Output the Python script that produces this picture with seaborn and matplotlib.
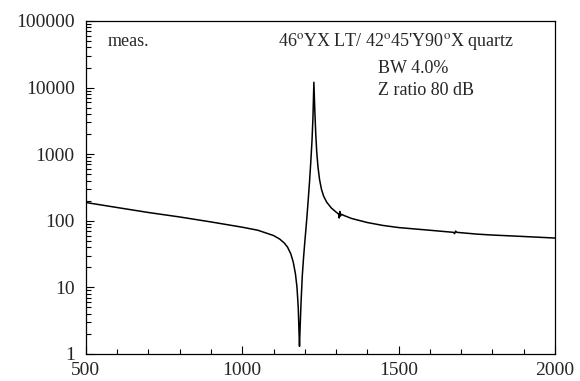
# plot.py
import numpy as np
import pandas as pd
import matplotlib
matplotlib.use('Agg')
import matplotlib.pyplot as plt
import matplotlib.ticker as mticker
import seaborn as sns

freq = [500, 600, 700, 800, 900, 1000, 1050, 1100, 1120, 1135, 1145, 1155,
        1163, 1170, 1175, 1179, 1181, 1183, 1185, 1188, 1192, 1196, 1200,
        1205, 1210, 1215, 1219, 1223, 1226, 1229, 1232, 1235, 1238, 1242,
        1247, 1253, 1260, 1270, 1285, 1300, 1308, 1310, 1312, 1314, 1317,
        1325, 1350, 1400, 1450, 1500, 1600, 1675, 1679, 1682, 1686, 1750,
        1800, 1900, 2000]
impedance = [188, 158, 133, 114, 96, 80, 72, 60, 53, 46, 40, 32,
             24, 16, 10, 5, 2.5, 1.3, 2.5, 6, 15, 28, 48,
             90, 180, 380, 750, 1600, 3500, 12000, 4500, 2000, 1100, 650,
             420, 300, 235, 190, 155, 135, 126, 110, 138, 118, 125,
             120, 108, 94, 85, 79, 72, 67, 64, 70, 67, 63,
             61, 58, 55]

df = pd.DataFrame({'freq': freq, 'Z': impedance})

sns.set_style('ticks')
plt.rcParams['font.family'] = ['Liberation Serif', 'DejaVu Serif']
plt.rcParams['mathtext.fontset'] = 'stix'

fig = plt.figure(figsize=(5.8, 3.81), dpi=100)
ax = fig.add_axes([0.148, 0.071, 0.809, 0.874])

sns.lineplot(data=df, x='freq', y='Z', color='black', linewidth=1.1,
             ax=ax, sort=False, estimator=None)

ax.set_yscale('log')
ax.set_xlim(500, 2000)
ax.set_ylim(1, 100000)
ax.set_xlabel('')
ax.set_ylabel('')

ax.xaxis.set_major_locator(mticker.FixedLocator([500, 1000, 1500, 2000]))
ax.xaxis.set_minor_locator(mticker.MultipleLocator(100))
ax.yaxis.set_major_locator(mticker.LogLocator(base=10, numticks=10))
ax.yaxis.set_minor_locator(mticker.LogLocator(base=10, subs=np.arange(2, 10), numticks=10))
ax.yaxis.set_major_formatter(mticker.FuncFormatter(lambda v, p: '%d' % v))
ax.yaxis.set_minor_formatter(mticker.NullFormatter())

ax.tick_params(which='both', direction='in', top=False, right=False,
               labelsize=14, color='black', width=0.8)
ax.tick_params(which='major', length=6)
ax.tick_params(which='minor', length=3.5)
ax.tick_params(axis='x', which='major', pad=6)
ax.tick_params(axis='y', which='major', pad=8)

for s in ax.spines.values():
    s.set_linewidth(0.9)
    s.set_color('black')

ax.text(0.047, 0.937, 'meas.', transform=ax.transAxes, fontsize=13, va='center')
ax.text(0.41, 0.937, "46$^{\\rm o}$YX LT/ 42$^{\\rm o}$45'Y90$^{\\rm o}$X quartz",
        transform=ax.transAxes, fontsize=13, va='center')
ax.text(0.623, 0.857, 'BW 4.0%', transform=ax.transAxes, fontsize=13, va='center')
ax.text(0.623, 0.792, 'Z ratio 80 dB', transform=ax.transAxes, fontsize=13, va='center')

fig.savefig('out.png', dpi=100)
